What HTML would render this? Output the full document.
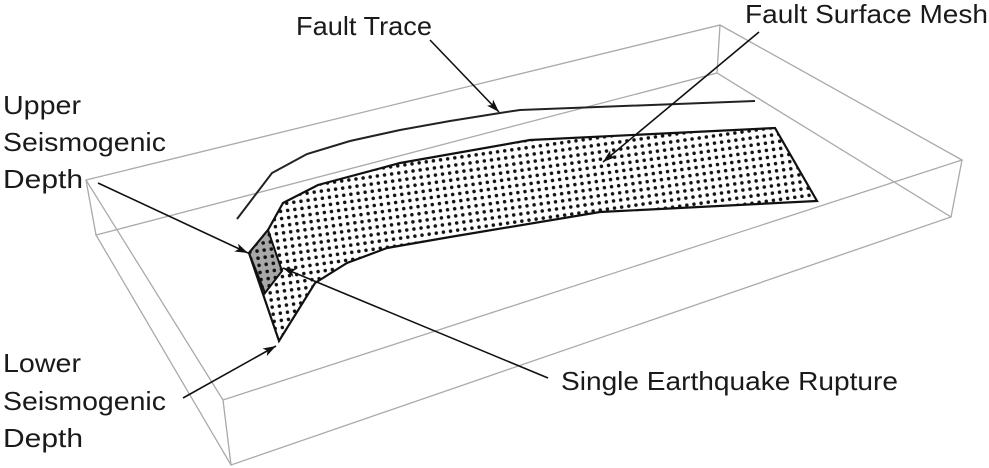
<!DOCTYPE html>
<html><head><meta charset="utf-8"><style>
html,body{margin:0;padding:0;background:#fff;}
svg{display:block;}
text{font-family:"Liberation Sans",sans-serif;font-size:26px;fill:#1a1a1a;}
</style></head><body>
<svg width="989" height="468" viewBox="0 0 989 468" xmlns="http://www.w3.org/2000/svg">
<defs>
<pattern id="dots" x="0" y="0" width="7.2" height="7.2" patternUnits="userSpaceOnUse" patternTransform="rotate(-8)">
<circle cx="3.6" cy="3.6" r="1.75" fill="#111"/>
</pattern>
<marker id="ah" viewBox="0 0 12 8" refX="12" refY="4" markerWidth="13" markerHeight="9" markerUnits="userSpaceOnUse" orient="auto">
<path d="M0,0 L12,4 L0,8 L3,4 Z" fill="#111"/>
</marker>
</defs>
<g stroke="#aaa" stroke-width="1.3" fill="none">
<polygon points="86,180 720,25 962,160 223,400"/>
<polygon points="96,235 717,73 951,217 231,465"/>
<line x1="86" y1="180" x2="96" y2="235"/>
<line x1="720" y1="25" x2="717" y2="73"/>
<line x1="962" y1="160" x2="951" y2="217"/>
<line x1="223" y1="400" x2="231" y2="465"/>
</g>
<polyline points="237,219 272,173 307,154 350,141 400,130 450,121 500,113 520,110 755,101" fill="none" stroke="#222" stroke-width="2"/>
<polygon points="249,253 268,230 283,203 318,185 400,163 530,140 775,128 817,201 600,212 450,237 387,248 347,263 315,283 279,341" fill="url(#dots)" stroke="#111" stroke-width="2.2"/>
<polygon points="249,253 268,230 282,271 265,293" fill="#999" fill-opacity="0.85" stroke="#111" stroke-width="2"/>
<polygon points="249,253 268,230 282,271 265,293" fill="url(#dots)"/>
<g stroke="#111" stroke-width="1.6" fill="none" marker-end="url(#ah)">
<line x1="430" y1="40" x2="499" y2="112"/>
<line x1="759" y1="32" x2="603" y2="162"/>
<line x1="98" y1="183" x2="248" y2="253"/>
<line x1="183" y1="398" x2="276" y2="346"/>
<line x1="548" y1="378" x2="283" y2="268"/>
</g>
<text x="296" y="35" textLength="136" lengthAdjust="spacingAndGlyphs">Fault Trace</text>
<text x="745" y="23" textLength="243" lengthAdjust="spacingAndGlyphs">Fault Surface Mesh</text>
<text x="3" y="114" textLength="78" lengthAdjust="spacingAndGlyphs">Upper</text>
<text x="3" y="151" textLength="163" lengthAdjust="spacingAndGlyphs">Seismogenic</text>
<text x="3" y="188" textLength="80" lengthAdjust="spacingAndGlyphs">Depth</text>
<text x="3" y="372" textLength="78" lengthAdjust="spacingAndGlyphs">Lower</text>
<text x="3" y="410" textLength="163" lengthAdjust="spacingAndGlyphs">Seismogenic</text>
<text x="3" y="447" textLength="80" lengthAdjust="spacingAndGlyphs">Depth</text>
<text x="561" y="390" textLength="337" lengthAdjust="spacingAndGlyphs">Single Earthquake Rupture</text>
</svg>
</body></html>
